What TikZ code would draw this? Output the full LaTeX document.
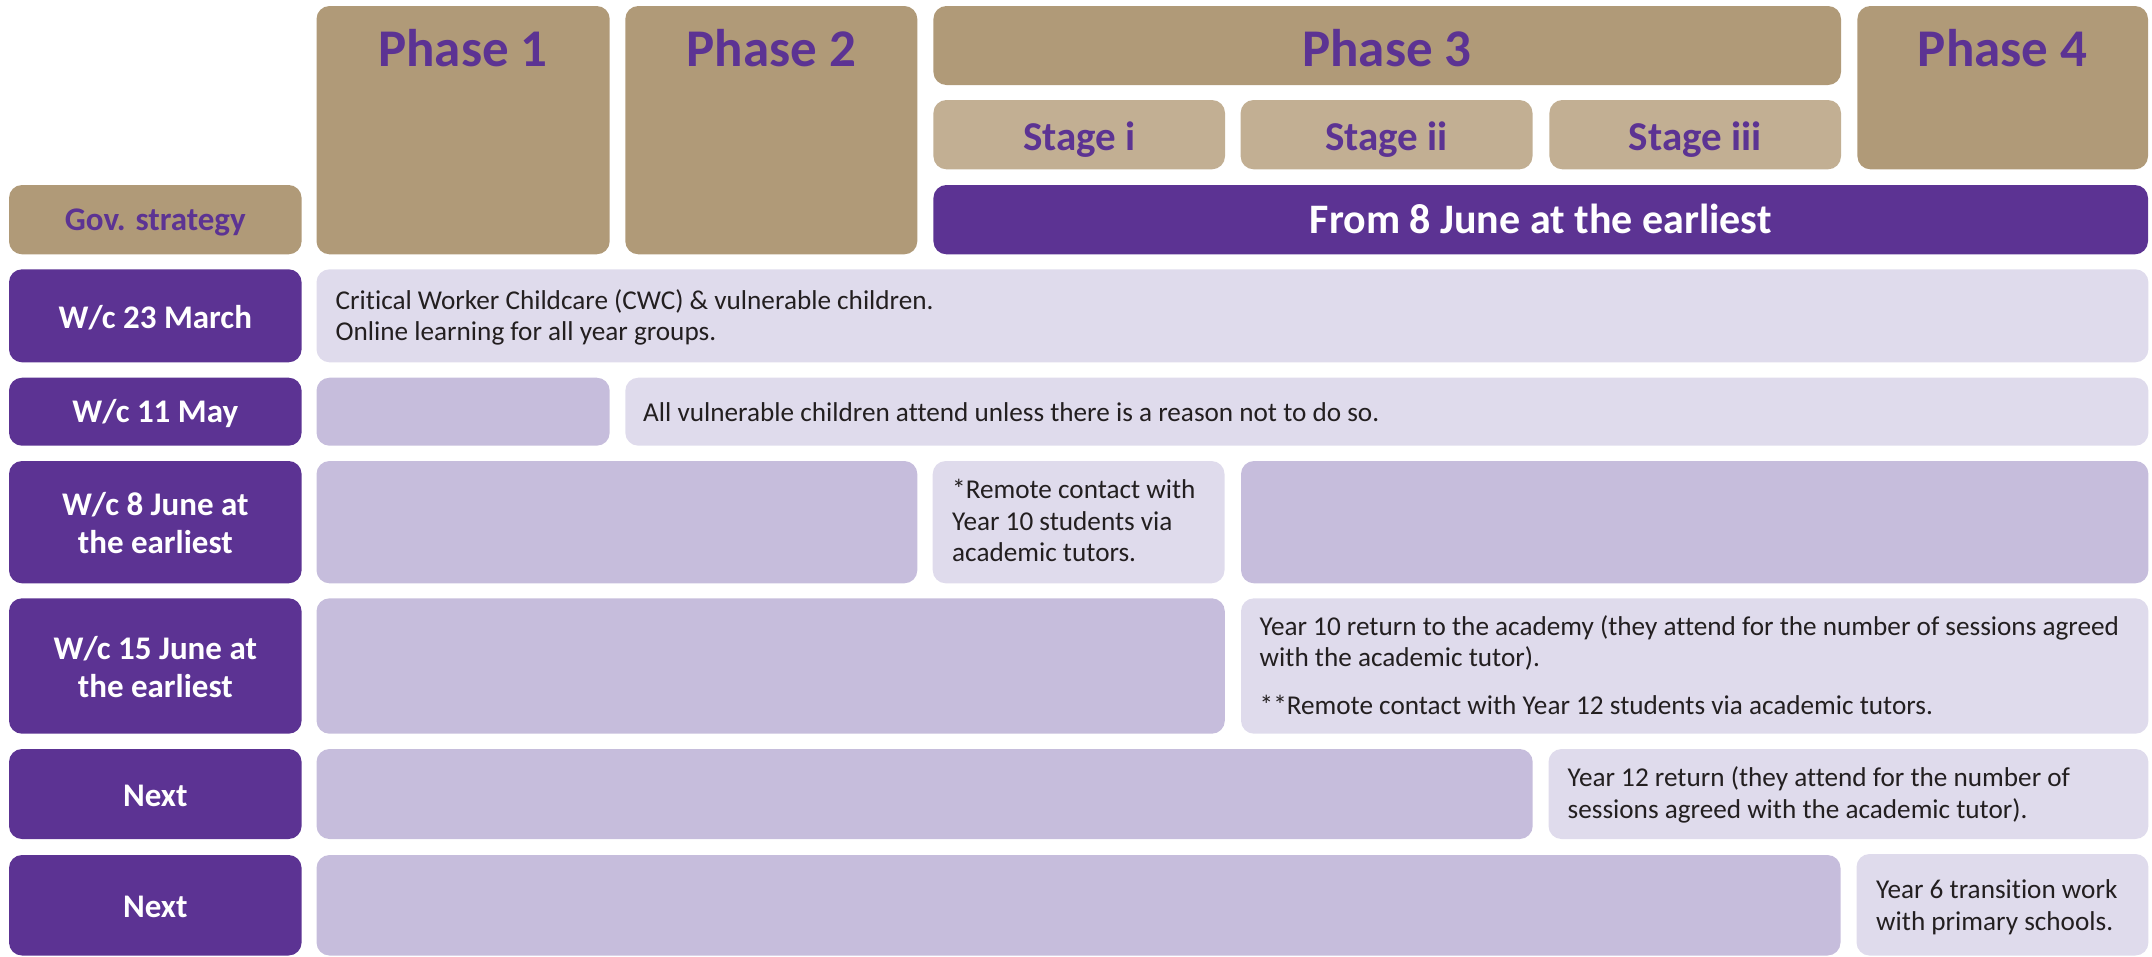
\documentclass[tikz,border=0pt]{standalone}
\usepackage{fontspec}
\setmainfont[Ligatures=NoCommon]{Carlito}
\definecolor{tanc}{HTML}{B09A78}
\definecolor{stagec}{HTML}{C2AF93}
\definecolor{purp}{HTML}{5C3393}
\definecolor{lightl}{HTML}{DFDBEC}
\definecolor{medl}{HTML}{C6BDDC}
\definecolor{darkt}{HTML}{231F20}
\newcommand\bx[6]{\node[#1, anchor=north west, minimum width=#4pt-#2pt, minimum height=#5pt-#3pt] (#6) at (#2,#3) {};}
\tikzset{
  cell/.style={rectangle, rounded corners=13pt, draw=none, inner sep=0pt, outer sep=0pt},
  phasebox/.style={cell, fill=tanc},
  stagebox/.style={cell, fill=stagec},
  purpbox/.style={cell, fill=purp},
  lightbox/.style={cell, fill=lightl},
  medbox/.style={cell, fill=medl},
  phasetxt/.style={inner sep=0pt, text=purp, font=\fontsize{53}{60}\selectfont\bfseries},
  stagetxt/.style={inner sep=0pt, text=purp, font=\fontsize{41}{48}\selectfont\bfseries},
  fromtxt/.style={inner sep=0pt, text=white, font=\fontsize{42}{48}\selectfont\bfseries},
  govtxt/.style={inner sep=0pt, text=purp, font=\fontsize{33}{38}\selectfont\bfseries},
  rowtxt/.style={inner sep=0pt, text=white, font=\fontsize{33}{38}\selectfont\bfseries},
  bodytxt/.style={inner sep=0pt, text=darkt, font=\fontsize{27.2}{31.7}\selectfont},
}
\newcommand\lines[1]{\parbox[t]{900pt}{\raggedright #1}}
\newcommand\clines[1]{\parbox[t]{280pt}{\centering #1}}
\begin{document}
\begin{tikzpicture}[x=1pt,y=-1pt]
\useasboundingbox (0,0) rectangle (2152,956);
% header
\bx{phasebox}{9}{185}{301.6}{254.3}{gov}
\bx{phasebox}{316.5}{6}{609.7}{254.3}{ph1}
\bx{phasebox}{625.3}{6}{917.3}{254.3}{ph2}
\bx{phasebox}{933.4}{6}{1841}{85}{ph3}
\bx{phasebox}{1857.4}{6}{2148}{169.3}{ph4}
\bx{stagebox}{933.4}{100}{1225}{169.3}{st1}
\bx{stagebox}{1240.6}{100}{1532.5}{169.3}{st2}
\bx{stagebox}{1549.4}{100}{1841}{169.3}{st3}
\bx{purpbox}{933.4}{185}{2148}{254.3}{from}
\node[phasetxt, anchor=base] (ph1t) at (463,66.7) {Phase 1};
\node[phasetxt, anchor=base] (ph2t) at (771.3,66.7) {Phase 2};
\node[phasetxt, anchor=base] (ph3t) at (1387,66.7) {Phase 3};
\node[phasetxt, anchor=base] (ph4t) at (2002.7,66.7) {Phase 4};
\node[stagetxt, anchor=base] (st1t) at (1079.2,150.7) {Stage i};
\node[stagetxt, anchor=base] (st2t) at (1386.5,150.7) {Stage ii};
\node[stagetxt, anchor=base] (st3t) at (1695.2,150.7) {Stage iii};
\node[govtxt, anchor=base] (govt) at (155.3,230) {Gov. strategy};
\node[fromtxt, anchor=base] (fromt) at (1540.7,233) {From 8 June at the earliest};
% row labels
\bx{purpbox}{9}{269.3}{301.6}{362.3}{r1}
\bx{purpbox}{9}{377.7}{301.6}{445.7}{r2}
\bx{purpbox}{9}{461}{301.6}{583.3}{r3}
\bx{purpbox}{9}{598.3}{301.6}{733.7}{r4}
\bx{purpbox}{9}{749}{301.6}{839}{r5}
\bx{purpbox}{9}{855}{301.6}{955.5}{r6}
\node[rowtxt, anchor=base] (r1t) at (155.3,328) {W/c 23 March};
\node[rowtxt, anchor=base] (r2t) at (155.3,422.5) {W/c 11 May};
\node[rowtxt, anchor=base] (r3t) at (155.3,515) {\clines{W/c 8 June at\\the earliest}};
\node[rowtxt, anchor=base] (r4t) at (155.3,659) {\clines{W/c 15 June at\\the earliest}};
\node[rowtxt, anchor=base] (r5t) at (155.3,806) {Next};
\node[rowtxt, anchor=base] (r6t) at (155.3,917.5) {Next};
% row 1
\bx{lightbox}{316.5}{269.3}{2148.4}{362.3}{b1}
\node[bodytxt, anchor=base west] (b1t) at (335.5,309.3) {\lines{Critical Worker Childcare (CWC) \& vulnerable children.\\[-0.7pt]Online learning for all year groups.}};
% row 2
\bx{medbox}{316.5}{377.7}{609.7}{445.7}{m2}
\bx{lightbox}{625.3}{377.7}{2148.4}{445.7}{b2}
\node[bodytxt, anchor=base west] (b2t) at (643,421) {All vulnerable children attend unless there is a reason not to do so.};
% row 3
\bx{medbox}{316.5}{461}{917.3}{583.3}{m3a}
\bx{lightbox}{932.7}{461}{1224.5}{583.3}{b3}
\bx{medbox}{1241}{461}{2148.4}{583.3}{m3b}
\node[bodytxt, anchor=base west] (b3t) at (952,498.3) {\lines{*Remote contact with\\Year 10 students via\\academic tutors.}};
% row 4
\bx{medbox}{316.5}{598.3}{1224.8}{733.7}{m4}
\bx{lightbox}{1241}{598.3}{2148.4}{733.7}{b4}
\node[bodytxt, anchor=base west] (b4t) at (1259.5,635) {\lines{Year 10 return to the academy (they attend for the number of sessions agreed\\with the academic tutor).\\[16pt]**Remote contact with Year 12 students via academic tutors.}};
% row 5
\bx{medbox}{316.5}{749}{1532.7}{839}{m5}
\bx{lightbox}{1548.5}{749}{2148.4}{839}{b5}
\node[bodytxt, anchor=base west] (b5t) at (1567.5,786.7) {\lines{Year 12 return (they attend for the number of\\sessions agreed with the academic tutor).}};
% row 6
\bx{medbox}{316.5}{855}{1840.5}{955.5}{m6}
\bx{lightbox}{1856.5}{854}{2148.4}{955.5}{b6}
\node[bodytxt, anchor=base west] (b6t) at (1876,898.3) {\lines{Year 6 transition work\\with primary schools.}};
\end{tikzpicture}
\end{document}
